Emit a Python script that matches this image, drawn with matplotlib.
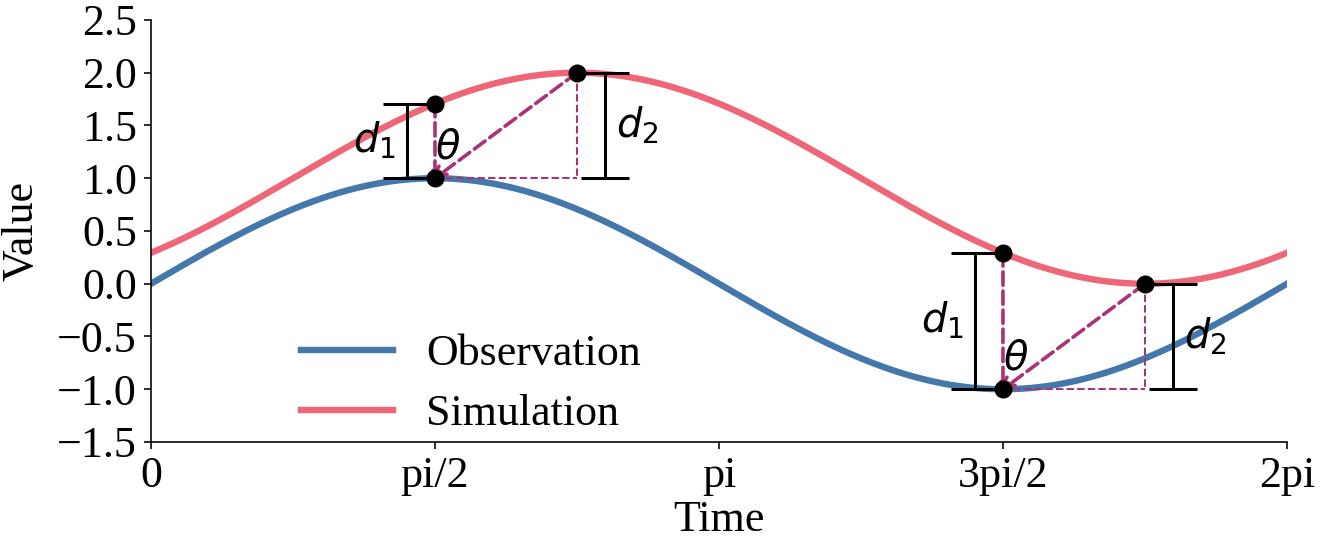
import numpy as np
import matplotlib
matplotlib.use("Agg")
import matplotlib.pyplot as plt

# Datos
x = np.linspace(0, 2 * np.pi, 400)
observation = np.sin(x)
simulation = 1 + np.sin(x - np.pi / 4)

tick_pos = [0, np.pi / 2, np.pi, 3 * np.pi / 2, 2 * np.pi]
tick_labels = ["0", "pi/2", "pi", "3pi/2", "2pi"]
y_ticks = [-1.5, -1.0, -0.5, 0.0, 0.5, 1.0, 1.5, 2.0, 2.5]

# puntos de referencia (t0: punto de observacion, t1: pico/valle de la simulacion)
t0 = [np.pi / 2, 3 * np.pi / 2]
t1 = [3 * np.pi / 4, 7 * np.pi / 4]

blue = "#4477AA"
red = "#EE6677"
purple = "#AA3377"

plt.rcParams["font.family"] = ["Liberation Serif", "DejaVu Serif"]
plt.rcParams["mathtext.fontset"] = "dejavusans"
plt.rcParams["font.size"] = 22

fig = plt.figure(figsize=(1328 / 144, 546 / 144), dpi=144)
ax = fig.add_axes([0.1137, 0.1905, 0.8554, 0.7729])

ax.plot(x, observation, color=blue, lw=3.2, label="Observation")
ax.plot(x, simulation, color=red, lw=3.2, label="Simulation")

off = 0.155
for a, b in zip(t0, t1):
    y_obs = np.sin(a)
    y_sim = 1 + np.sin(a - np.pi / 4)
    y_sim2 = 1 + np.sin(b - np.pi / 4)

    # puntos
    ax.plot([a, a, b], [y_obs, y_sim, y_sim2], "o", color="black", ms=8, zorder=5)

    # lineas discontinuas con flecha
    arrow = dict(arrowstyle="->", color=purple, lw=1.8, linestyle="--",
                 shrinkA=0, shrinkB=0, mutation_scale=10)
    ax.annotate("", xy=(a, y_obs), xytext=(a, y_sim), arrowprops=arrow, zorder=4)
    ax.annotate("", xy=(a, y_obs), xytext=(b, y_sim2), arrowprops=arrow, zorder=4)

    # lineas finas
    ax.plot([a, b], [y_obs, y_obs], "--", color=purple, lw=1, zorder=4)
    ax.plot([b, b], [y_sim2, y_obs], "--", color=purple, lw=1, zorder=4)

    # barras d1 y d2
    ax.errorbar(a - off, (y_obs + y_sim) / 2, yerr=(y_sim - y_obs) / 2,
                color="black", lw=1.5, capsize=12, capthick=1.5, fmt="none")
    ax.errorbar(b + off, (y_obs + y_sim2) / 2, yerr=(y_sim2 - y_obs) / 2,
                color="black", lw=1.5, capsize=12, capthick=1.5, fmt="none")

    ax.text(a - off - 0.06, (y_obs + y_sim) / 2, "$d_1$", ha="right", va="center", fontsize=20)
    ax.text(b + off + 0.06, (y_obs + y_sim2) / 2, "$d_2$", ha="left", va="center", fontsize=20)
    ax.text(a + 0.0, y_obs + 0.1, r"$\theta$", ha="left", va="bottom", fontsize=20)

ax.set_xlim(0, 2 * np.pi)
ax.set_ylim(-1.5, 2.5)
ax.set_xticks(tick_pos)
ax.set_xticklabels(tick_labels)
ax.set_yticks(y_ticks)
ax.set_yticklabels(["\u2212" + f"{abs(v):.1f}" if v < 0 else f"{v:.1f}" for v in y_ticks])
ax.set_xlabel("Time", labelpad=2)
ax.set_ylabel("Value", labelpad=8)
ax.spines["top"].set_visible(False)
ax.spines["right"].set_visible(False)

ax.legend(loc="lower left", bbox_to_anchor=(0.097, -0.075), frameon=False,
          handlelength=2.1, handletextpad=0.75, labelspacing=0.45)

fig.savefig("out.png", dpi=144)
